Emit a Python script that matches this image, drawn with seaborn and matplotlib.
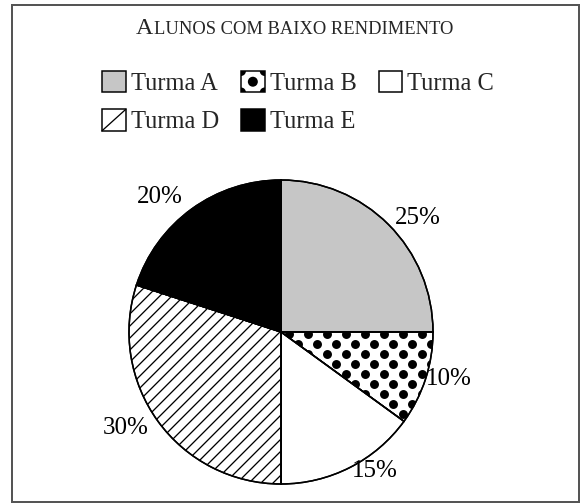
import numpy as np
import matplotlib
matplotlib.use('Agg')
import matplotlib.pyplot as plt
import seaborn as sns
from matplotlib.patches import Rectangle, Circle, Patch
from matplotlib.lines import Line2D
from matplotlib.collections import LineCollection
from matplotlib.legend_handler import HandlerPatch
from matplotlib.offsetbox import TextArea, HPacker, AnchoredOffsetbox

# dados
turmas = ['Turma A', 'Turma B', 'Turma C', 'Turma D', 'Turma E']
percentuais = [25, 10, 15, 30, 20]
rotulos = ['25%', '10%', '15%', '30%', '20%']
titulo_inicial = 'A'
titulo_resto = 'LUNOS COM BAIXO RENDIMENTO'

sns.set_style('white')
plt.rcParams['font.family'] = ['Liberation Serif', 'DejaVu Serif']

cores = ['#c6c6c6', 'white', 'white', 'white', 'black']
texturas = [None, 'pontos', None, 'linhas', None]
dist_rotulos = [1.06, 1.0, 1.03, 1.08, 1.1]

W, H, DPI = 582, 503, 72
fig = plt.figure(figsize=(W / DPI, H / DPI), dpi=DPI)
fig.patch.set_facecolor('white')

# moldura
fig.add_artist(Rectangle((12 / W, 1 / H), 567 / W, 497 / H, transform=fig.transFigure,
                         fill=False, edgecolor='#555555', linewidth=2))

# eixo da pizza
R = 152
cx, cy = 281, H - 332
lado = 2.5 * R
ax = fig.add_axes([(cx - lado / 2) / W, (cy - lado / 2) / H, lado / W, lado / H])

wedges, textos = ax.pie(
    percentuais, labels=rotulos, colors=cores, startangle=90, counterclock=False,
    labeldistance=1.05,
    wedgeprops=dict(edgecolor='black', linewidth=1.5),
    textprops=dict(fontsize=25, color='black'))

# afasta cada rotulo do contorno
for w, t, d in zip(wedges, textos, dist_rotulos):
    ang = np.deg2rad((w.theta1 + w.theta2) / 2)
    t.set_position((d * np.cos(ang), d * np.sin(ang)))

# textura de bolinhas (Turma B)
gx = np.arange(-1.2, 1.2, 0.125)
gy = np.arange(-1.2, 1.2, 0.066)
px, py = [], []
for i, y in enumerate(gy):
    desloc = 0.0625 if i % 2 else 0.0
    px.extend(gx + desloc)
    py.extend([y] * len(gx))
pontos = ax.scatter(px, py, s=80, color='black', linewidths=0, zorder=1.5)
pontos.set_clip_path(wedges[texturas.index('pontos')])

# textura de linhas diagonais (Turma D)
segs = [[(-1.3, -1.3 + c), (1.3, 1.3 + c)] for c in np.arange(-2.6, 2.6, 0.079)]
linhas = LineCollection(segs, colors='black', linewidths=1.3, zorder=1.5)
ax.add_collection(linhas)
linhas.set_clip_path(wedges[texturas.index('linhas')])

# contornos por cima das texturas
ax.pie(percentuais, colors=['none'] * 5, startangle=90, counterclock=False,
       wedgeprops=dict(edgecolor='black', linewidth=1.5, fill=False, zorder=3))
ax.set_xlim(-1.25, 1.25)
ax.set_ylim(-1.25, 1.25)


class HandlerTextura(HandlerPatch):
    def __init__(self, tipo):
        super().__init__()
        self.tipo = tipo

    def create_artists(self, legend, orig_handle, xdescent, ydescent,
                       width, height, fontsize, trans):
        x0, y0 = -xdescent, -ydescent
        caixa = Rectangle((x0, y0), width, height, facecolor='white',
                          edgecolor='none', transform=trans)
        artistas = [caixa]
        if self.tipo == 'pontos':
            for fx, fy in [(0.5, 0.5), (0, 0), (1, 0), (0, 1), (1, 1)]:
                c = Circle((x0 + fx * width, y0 + fy * height), radius=0.21 * width,
                           facecolor='black', edgecolor='none', transform=trans)
                c.set_clip_path(caixa)
                artistas.append(c)
        else:
            artistas.append(Line2D([x0, x0 + width], [y0, y0 + height], color='black',
                                   linewidth=1.3, transform=trans))
        artistas.append(Rectangle((x0, y0), width, height, fill=False,
                                  edgecolor='black', linewidth=1.5, transform=trans))
        return artistas


handles = [Patch(facecolor=c, edgecolor='black', linewidth=1.5) for c in cores]
mapa = {handles[i]: HandlerTextura(t) for i, t in enumerate(texturas) if t}
ordem = [0, 3, 1, 4, 2]
fig.legend([handles[i] for i in ordem], [turmas[i] for i in ordem],
           handler_map=mapa,
           ncol=3, loc='upper left', bbox_to_anchor=(102 / W, 1 - 71 / H),
           fontsize=24.5, frameon=False, borderpad=0, borderaxespad=0,
           handlelength=0.97, handleheight=0.97, handletextpad=0.2,
           columnspacing=0.9, labelspacing=0.58)

# titulo em versalete
tit = HPacker(children=[TextArea(titulo_inicial, textprops=dict(fontsize=24)),
                        TextArea(titulo_resto, textprops=dict(fontsize=18.5))],
              align='baseline', pad=0, sep=1)
fig.add_artist(AnchoredOffsetbox(loc='center', child=tit, frameon=False, pad=0,
                                 borderpad=0, bbox_to_anchor=(295 / W, 1 - 29 / H),
                                 bbox_transform=fig.transFigure))

fig.savefig('out.png', dpi=DPI, facecolor='white')
